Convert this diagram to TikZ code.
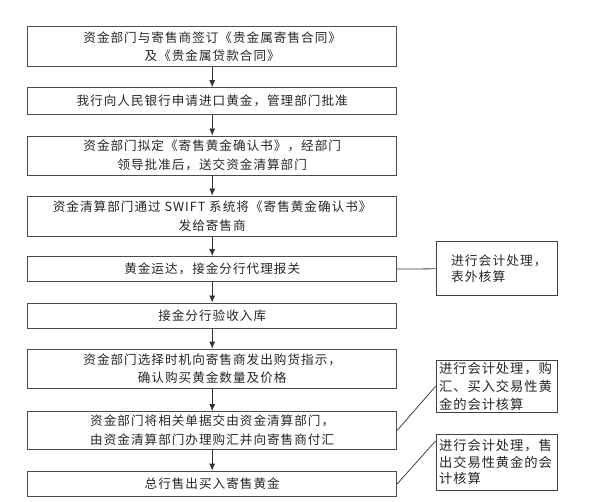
\documentclass[tikz,border=0pt]{standalone}
\usepackage{fontspec}
\setmainfont{Noto Sans CJK SC}
\usetikzlibrary{arrows.meta}
\begin{document}
\begin{tikzpicture}[x=1pt,y=-1pt,
  mainbox/.style={draw=black!70,line width=0.9pt,minimum width=369pt,inner sep=0pt,align=center,text=black!85,
    font=\fontsize{12.6}{18.5}\selectfont\addfontfeatures{LetterSpace=8}},
  sidebox/.style={draw=black!75,line width=0.9pt,inner ysep=0pt,align=left,text=black!85,
    font=\fontsize{12.8}{16.5}\selectfont\addfontfeatures{LetterSpace=8}},
  arr/.style={draw=black!80,line width=0.8pt,-{Latex[length=7pt,width=6pt]}},
  link/.style={draw=black!75,line width=0.8pt}]
\useasboundingbox (0,0) rectangle (593,502);
\node[mainbox,minimum height=40pt] (b1) at (212.2,46.7) {资金部门与寄售商签订《贵金属寄售合同》\\及《贵金属贷款合同》};
\node[mainbox,minimum height=27.3pt] (b2) at (212.2,101.3) {我行向人民银行申请进口黄金，管理部门批准};
\node[mainbox,minimum height=39pt] (b3) at (212.2,155.5) {资金部门拟定《寄售黄金确认书》，经部门\\领导批准后，送交资金清算部门};
\node[mainbox,minimum height=40pt] (b4) at (212.2,216) {资金清算部门通过 SWIFT 系统将《寄售黄金确认书》\\发给寄售商};
\node[mainbox,minimum height=25.2pt] (b5) at (212.2,269.1) {黄金运达，接金分行代理报关};
\node[mainbox,minimum height=25pt] (b6) at (212.2,315.5) {接金分行验收入库};
\node[mainbox,minimum height=39.3pt] (b7) at (212.2,368.7) {资金部门选择时机向寄售商发出购货指示，\\确认购买黄金数量及价格};
\node[mainbox,minimum height=37.8pt] (b8) at (212.2,430.4) {资金部门将相关单据交由资金清算部门，\\由资金清算部门办理购汇并向寄售商付汇};
\node[mainbox,minimum height=25.7pt] (b9) at (212.2,483.9) {总行售出买入寄售黄金};
\node[sidebox,inner xsep=15pt,text width=91.3pt,minimum height=54pt] (s1) at (496.7,268.8) {进行会计处理，\\表外核算};
\node[sidebox,inner xsep=3pt,text width=115.3pt,minimum height=52.7pt,
  font=\fontsize{13.3}{18}\selectfont\addfontfeatures{LetterSpace=7}] (s2) at (496.7,386.3) {进行会计处理，购\\汇、买入交易性黄\\金的会计核算};
\node[sidebox,inner xsep=3pt,text width=115.3pt,minimum height=55.7pt,
  font=\fontsize{13.3}{16.5}\selectfont\addfontfeatures{LetterSpace=7}] (s3) at (496.7,462.2) {进行会计处理，售\\出交易性黄金的会\\计核算};
\draw[arr] (b1) -- (b2);
\draw[arr] (b2) -- (b3);
\draw[arr] (b3) -- (b4);
\draw[arr] (b4) -- (b5);
\draw[arr] (b5) -- (b6);
\draw[arr] (b6) -- (b7);
\draw[arr] (b7) -- (b8);
\draw[arr] (b8) -- (b9);
\draw[link] (b5.east) -- (s1.west);
\draw[link] (b8.east) -- (s2.west);
\draw[link] (b9.east) -- ([yshift=-7pt]s3.north west);
\end{tikzpicture}
\end{document}
